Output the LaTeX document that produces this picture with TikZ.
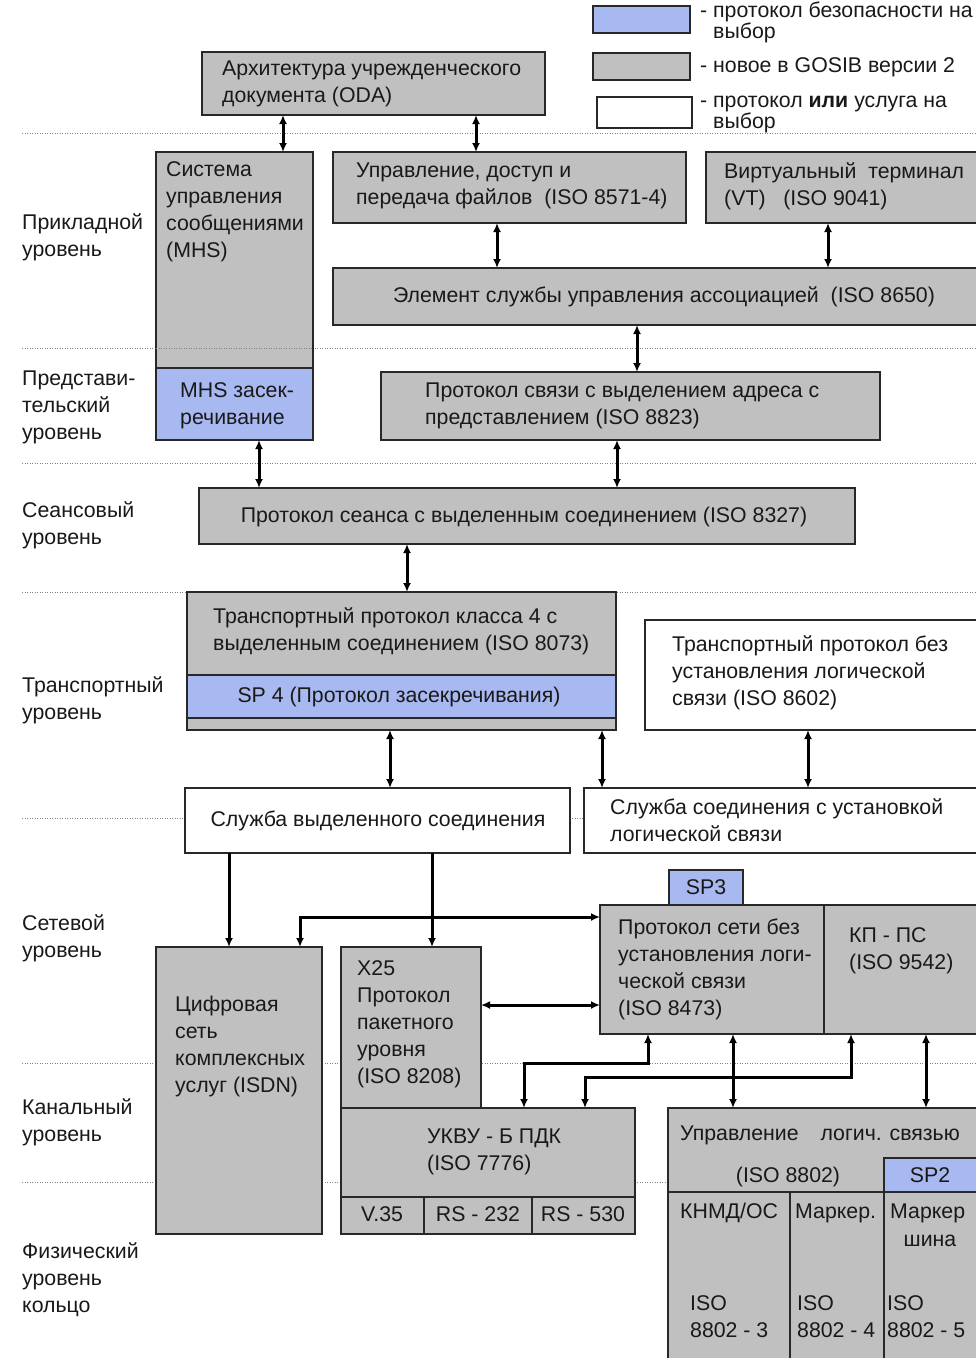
\documentclass[tikz,border=0pt]{standalone}
\usepackage{fontspec}
\setmainfont{Liberation Sans}
\usetikzlibrary{arrows.meta}
\definecolor{boxgray}{RGB}{192,192,192}
\definecolor{boxblue}{RGB}{168,184,240}
\definecolor{edgec}{RGB}{40,40,40}
\definecolor{dotc}{RGB}{130,130,130}
\definecolor{txtc}{RGB}{25,25,25}
\tikzset{
  box/.style={draw=edgec, line width=1.3pt, fill=boxgray, inner sep=0pt, outer sep=0pt, anchor=north west},
  gbox/.style={box},
  bbox/.style={box, fill=boxblue},
  wbox/.style={box, fill=white},
  txt/.style={inner sep=0pt, anchor=west, align=left, text=txtc, font=\fontsize{21.3pt}{27pt}\selectfont},
  ctxt/.style={txt, anchor=center, align=center},
  legtxt/.style={txt, font=\fontsize{21.3pt}{21pt}\selectfont},
  lvl/.style={dotc, line width=0.8pt, dash pattern=on 1pt off 1.5pt},
  tip/.tip={Latex[length=9pt,width=8pt]},
  arr/.style={line width=3pt, tip-tip},
  arrd/.style={line width=3pt, -tip},
}
\newcommand\bx[6][gbox]{\node[#1, minimum width={#5pt-#3pt}, minimum height={#6pt-#4pt}] (#2) at (#3,#4) {};}
\begin{document}
\begin{tikzpicture}[x=1pt,y=-1pt]
\clip (0,0) rectangle (976,1358);
\fill[white] (0,0) rectangle (976,1358);
% level separators
\foreach \yy in {133,348,463,592,818,1063,1182}{\draw[lvl] (22,\yy) -- (976,\yy);}

% legend
\bx[bbox]{legb}{593}{6}{690}{33}
\bx[gbox]{legg}{593}{53}{690}{80}
\bx[wbox]{legw}{597}{97}{692}{128}
\node[legtxt] (legbt) at (700,22) {- протокол безопасности на\\\phantom{- }выбор};
\node[legtxt] (leggt) at (700,67) {- новое в GOSIB версии 2};
\node[legtxt] (legwt) at (700,114) {- протокол \textbf{или} услуга на\\\phantom{- }выбор};

% level labels
\node[txt] (lv1) at (22,237.5) {Прикладной\\уровень};
\node[txt] (lv2) at (22,407) {Представи-\\тельский\\уровень};
\node[txt] (lv3) at (22,525) {Сеансовый\\уровень};
\node[txt] (lv4) at (22,700) {Транспортный\\уровень};
\node[txt] (lv5) at (22,938) {Сетевой\\уровень};
\node[txt] (lv6) at (22,1122) {Канальный\\уровень};
\node[txt] (lv7) at (22,1280) {Физический\\уровень\\кольцо};

% application layer
\bx{oda}{202}{52}{545}{115}
\node[txt] (odat) at (222,83.5) {Архитектура учрежденческого\\документа (ODA)};
\bx{mhs}{156}{152}{313}{440}
\bx[bbox]{mhsb}{156}{368}{313}{440}
\draw[lvl] (mhs.west |- 0,348) -- (mhs.east |- 0,348);
\node[txt] (mhst) at (166,212) {Система\\управления\\сообщениями\\(MHS)};
\node[txt] (mhsbt) at (180,406) {MHS засек-\\речивание};
\bx{ftam}{333}{152}{686}{223}
\node[txt] (ftamt) at (356,186) {Управление, доступ и\\передача файлов\ \ (ISO 8571-4)};
\bx{vt}{706}{152}{990}{223}
\node[txt] (vtt) at (724,186) {Виртуальный\ \ терминал\\(VT)\ \ \ (ISO 9041)};
\bx{acse}{333}{268}{990}{325}
\node[ctxt] (acset) at (664,297) {Элемент службы управления ассоциацией\ \ (ISO 8650)};

% presentation
\bx{pres}{381}{372}{880}{440}
\node[txt] (prest) at (425,405.5) {Протокол связи с выделением адреса с\\представлением (ISO 8823)};

% session
\bx{sess}{199}{488}{855}{544}
\node[ctxt] (sesst) at (524,517) {Протокол сеанса с выделенным соединением (ISO 8327)};

% transport
\bx{tp4}{187}{592}{616}{730}
\bx[bbox]{sp4}{187}{675}{616}{718}
\node[txt] (tp4t) at (213,631.5) {Транспортный протокол класса 4 с\\выделенным соединением (ISO 8073)};
\node[ctxt] (sp4t) at (399,697) {SP 4 (Протокол засекречивания)};
\bx[wbox]{cltp}{645}{620}{990}{730}
\node[txt] (cltpt) at (672,673) {Транспортный протокол без\\установления логической\\связи (ISO 8602)};

% services
\bx[wbox]{cons}{185}{788}{570}{853}
\node[ctxt] (const) at (378,821) {Служба выделенного соединения};
\bx[wbox]{clns}{584}{788}{990}{853}
\node[txt] (clnst) at (610,820.5) {Служба соединения с установкой\\логической связи};

% network
\bx[bbox]{sp3}{669}{870}{743}{905}
\node[ctxt] (sp3t) at (706,887.5) {SP3};
\bx{clnp}{600}{905}{824}{1034}
\node[txt] (clnpt) at (618,969) {Протокол сети без\\установления логи-\\ческой связи\\(ISO 8473)};
\bx{esis}{824}{905}{990}{1034}
\node[txt] (esist) at (849,950.5) {КП - ПС\\(ISO 9542)};
\bx{isdn}{156}{947}{322}{1234}
\node[txt] (isdnt) at (175,1046.5) {Цифровая\\сеть\\комплексных\\услуг (ISDN)};
\bx{x25}{341}{947}{481}{1108}
\node[txt] (x25t) at (357,1024.5) {X25\\Протокол\\пакетного\\уровня\\(ISO 8208)};

% data link
\bx{lapb}{341}{1108}{635}{1234}
\node[txt] (lapbt) at (427,1152) {УКВУ - Б ПДК\\(ISO 7776)};
\bx{v35}{341}{1197}{424}{1234}
\bx{rs232}{424}{1197}{532}{1234}
\bx{rs530}{532}{1197}{635}{1234}
\node[ctxt] (v35t) at (382,1214) {V.35};
\node[ctxt] (rs232t) at (478,1214) {RS - 232};
\node[ctxt] (rs530t) at (583,1214) {RS - 530};

\bx{llc}{668}{1108}{990}{1370}
\bx[bbox]{sp2}{884}{1158}{990}{1192}
\bx{csma}{668}{1192}{790}{1370}
\bx{token}{790}{1192}{884}{1370}
\bx{tring}{884}{1192}{990}{1370}
\node[txt] (llct) at (680,1135) {Управление\hspace{22pt}логич. связью};
\node[ctxt] (llct2) at (788,1177) {(ISO 8802)};
\node[ctxt] (sp2t) at (930,1175) {SP2};
\node[txt] (csmat) at (680,1213) {КНМД/ОС};
\node[txt] (csmat2) at (690,1317) {ISO\\8802 - 3};
\node[txt] (tokent) at (795,1213) {Маркер.};
\node[txt] (tokent2) at (797,1317) {ISO\\8802 - 4};
\node[txt] (tringt) at (890,1213) {Маркер};
\node[ctxt] (tringt1) at (930,1241) {шина};
\node[txt] (tringt2) at (887,1317) {ISO\\8802 - 5};

% connectors
\draw[arr] (283,0 |- oda.south) -- (283,0 |- mhs.north);
\draw[arr] (476,0 |- oda.south) -- (476,0 |- ftam.north);
\draw[arr] (497,0 |- ftam.south) -- (497,0 |- acse.north);
\draw[arr] (828,0 |- vt.south) -- (828,0 |- acse.north);
\draw[arr] (637,0 |- acse.south) -- (637,0 |- pres.north);
\draw[arr] (259,0 |- mhsb.south) -- (259,0 |- sess.north);
\draw[arr] (617,0 |- pres.south) -- (617,0 |- sess.north);
\draw[arr] (407,0 |- sess.south) -- (407,0 |- tp4.north);
\draw[arr] (390,0 |- tp4.south) -- (390,0 |- cons.north);
\draw[arr] (602,0 |- tp4.south) -- (602,0 |- clns.north);
\draw[arr] (808,0 |- cltp.south) -- (808,0 |- clns.north);
\draw[arrd] (229,0 |- cons.south) -- (229,0 |- isdn.north);
\draw[arrd] (432,0 |- cons.south) -- (432,0 |- x25.north);
\draw[arr] (clnp.west |- 0,917) -- (300,917) -- (300,0 |- isdn.north);
\draw[arr] (x25.east |- 0,1005) -- (clnp.west |- 0,1005);
\draw[arr] (524,0 |- lapb.north) -- (524,1063) -- (648,1063) -- (648,0 |- clnp.south);
\draw[arr] (585,0 |- lapb.north) -- (585,1077) -- (851,1077) -- (851,0 |- esis.south);
\draw[arr] (733,0 |- clnp.south) -- (733,0 |- llc.north);
\draw[arr] (926,0 |- esis.south) -- (926,0 |- llc.north);
\end{tikzpicture}
\end{document}
